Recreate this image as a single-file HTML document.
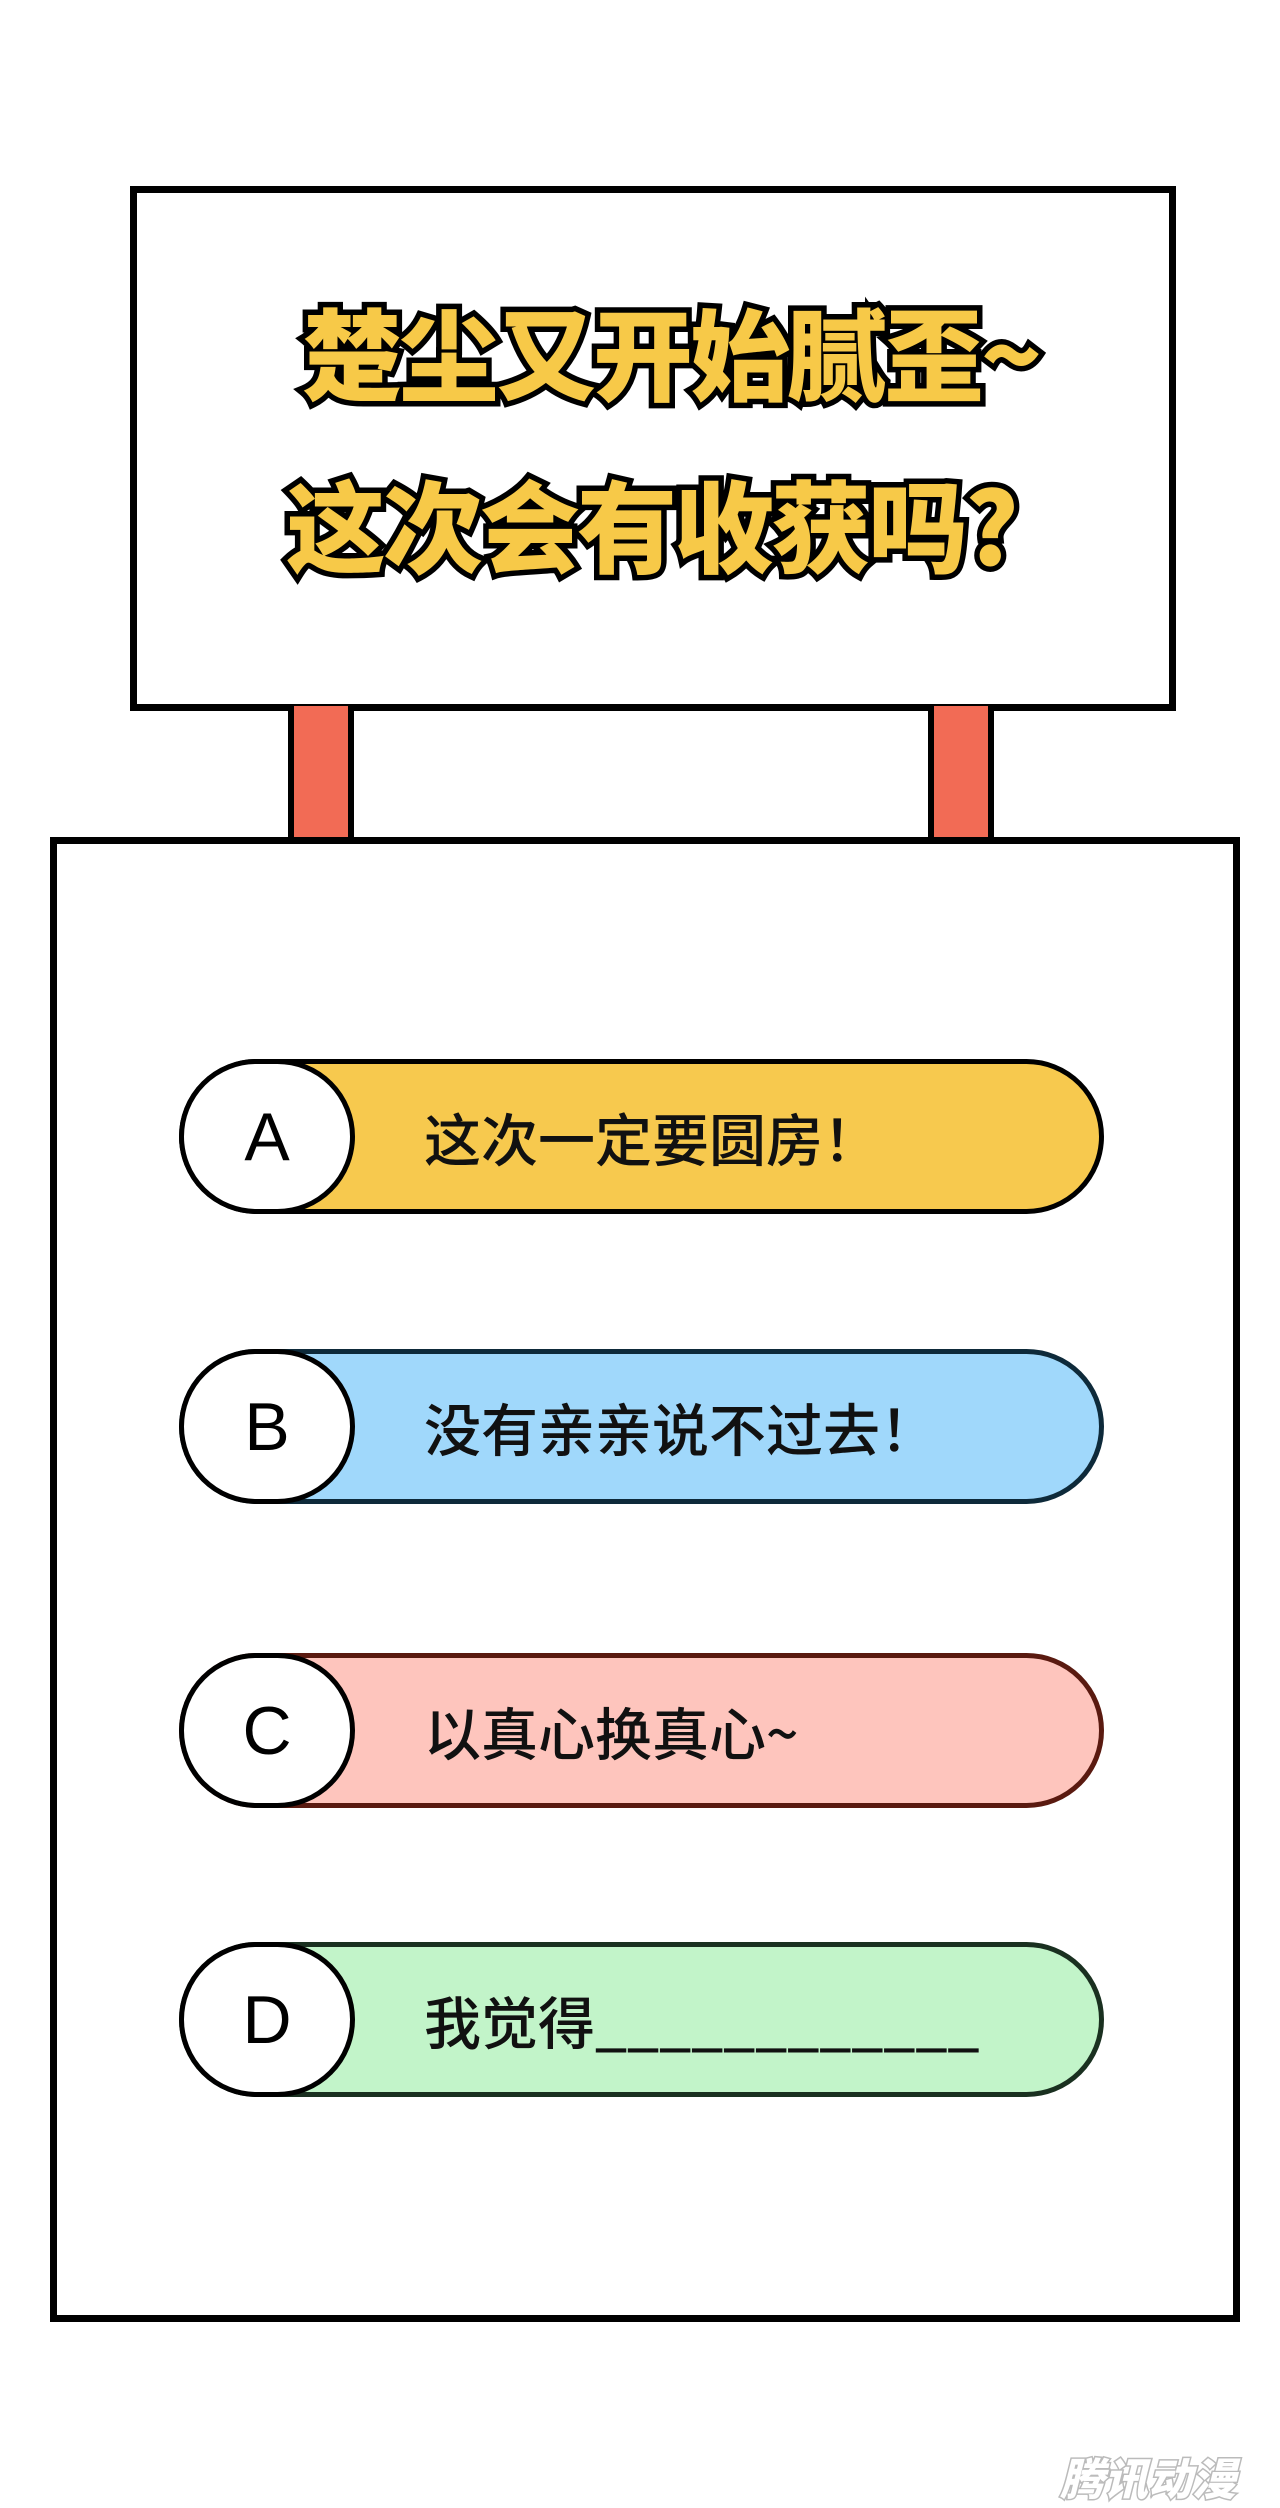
<!DOCTYPE html>
<html><head><meta charset="utf-8"><style>
body{margin:0;width:1280px;height:2500px;background:#fff;position:relative;overflow:hidden;font-family:"Liberation Sans","Noto Sans CJK SC",sans-serif}
.abs{position:absolute;box-sizing:border-box}
.sign{left:130px;top:186px;width:1046px;height:525px;border:7px solid #000;background:#fff}
.post{top:706px;width:66px;height:136px;background:#f26b55;border:6px solid #000;border-top:none;border-bottom:none}
.main{left:50px;top:837px;width:1190px;height:1485px;border:7px solid #000;background:#fff}
.t{font-weight:900;font-size:100px;line-height:120px;color:#f7c948;-webkit-text-stroke:11px #000;paint-order:stroke fill;white-space:nowrap;letter-spacing:-3px;font-family:"Noto Sans CJK SC",sans-serif}
.pill{left:179px;width:925px;height:155px;border:5px solid #000;border-radius:78px}
.circ{left:179px;width:176px;height:155px;border:5px solid #000;border-radius:78px;background:#fff;display:flex;align-items:center;justify-content:center;font-size:68px;color:#000}
.lab{left:424px;height:155px;display:flex;align-items:center;font-size:57px;color:#111;font-family:"Noto Sans CJK SC",sans-serif;font-weight:500}
</style></head><body>
<div class="abs sign"></div>
<div class="abs t" style="left:302px;top:290px">楚尘又开始腻歪~</div>
<div class="abs t" style="left:286px;top:462px">这次会有收获吗?</div>
<div class="abs post" style="left:288px"></div>
<div class="abs post" style="left:928px"></div>
<div class="abs main"></div>

<div class="abs pill" style="top:1059px;background:#f7c94e;border-color:#000"></div>
<div class="abs circ" style="top:1059px">A</div>
<div class="abs lab" style="top:1059px">这次一定要圆房！</div>

<div class="abs pill" style="top:1349px;background:#a0d8fb;border-color:#0e2a3a"></div>
<div class="abs circ" style="top:1349px">B</div>
<div class="abs lab" style="top:1349px">没有亲亲说不过去！</div>

<div class="abs pill" style="top:1653px;background:#fec5bd;border-color:#5a1a10"></div>
<div class="abs circ" style="top:1653px">C</div>
<div class="abs lab" style="top:1653px">以真心换真心~</div>

<div class="abs pill" style="top:1942px;background:#c2f4c9;border-color:#1a3020"></div>
<div class="abs circ" style="top:1942px">D</div>
<div class="abs lab" style="top:1942px">我觉得____________</div>

<div class="abs" style="left:1060px;top:2444px;font-size:44px;font-weight:900;font-style:italic;color:#fff;-webkit-text-stroke:3px #bbb;paint-order:stroke fill;font-family:'Noto Sans CJK SC',sans-serif">腾讯动漫</div>
</body></html>
